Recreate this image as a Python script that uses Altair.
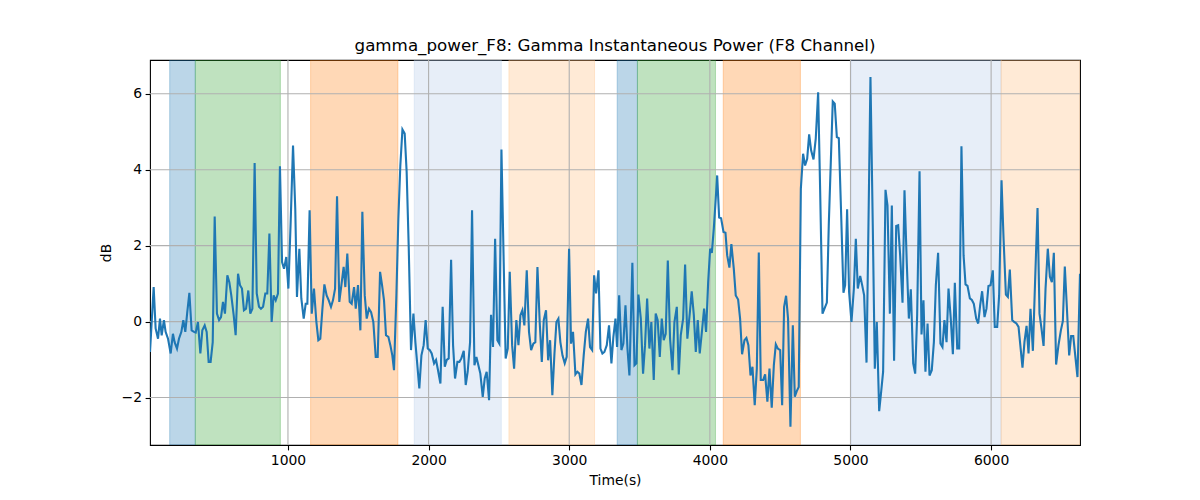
import altair as alt
import pandas as pd

# ---- data ----
time_s = [19, 45, 59, 76, 90, 102, 118, 130, 147, 166, 182, 194, 211, 225, 242, 256, 270, 284, 299, 315,
          332, 344, 360, 377, 391, 408, 422, 436, 450, 465, 479, 495, 510, 524, 538, 552, 569, 583, 597, 614,
          628, 645, 659, 673, 687, 702, 718, 732, 747, 763, 778, 794, 808, 823, 839, 853, 868,
          884, 898, 913, 929, 943, 958, 972, 988, 1003, 1019, 1036, 1052, 1064, 1081, 1095, 1112, 1126, 1138,
          1154, 1169, 1185, 1202, 1216, 1230, 1245, 1259, 1275, 1290, 1306, 1320, 1335, 1349, 1365, 1380,
          1396, 1408, 1422, 1439, 1453, 1470, 1482, 1498, 1515, 1529, 1546, 1560, 1576, 1591, 1607, 1624,
          1638, 1655, 1669, 1683, 1697, 1714,
          1728, 1742, 1754, 1771, 1785, 1799, 1814, 1830, 1844, 1859, 1875, 1892, 1906, 1920, 1934, 1949,
          1965, 1979, 1994, 2008, 2022, 2039, 2053, 2067, 2084, 2100, 2115, 2129, 2143, 2160, 2174, 2188,
          2205, 2219, 2233, 2250, 2264, 2278, 2295, 2309, 2326, 2340, 2354, 2368, 2385, 2399, 2413, 2430,
          2444, 2458, 2473, 2489, 2503, 2518, 2534, 2548, 2563, 2577,
          2594, 2608, 2624, 2639, 2653, 2667, 2681, 2698, 2714, 2729, 2745, 2759, 2774, 2790, 2805, 2819,
          2835, 2850, 2864, 2880, 2895, 2909, 2923, 2937, 2952, 2968, 2982, 2999, 3013, 3027, 3044, 3058,
          3072, 3087, 3103, 3118, 3134, 3148, 3163, 3177, 3191, 3208, 3222, 3236, 3250, 3267, 3283, 3300,
          3314, 3329, 3340, 3355, 3371, 3385, 3400, 3414, 3428,
          3449, 3464, 3478, 3492, 3509, 3525, 3539, 3554, 3570, 3584, 3601, 3615, 3629, 3644, 3658, 3672,
          3686, 3701, 3717, 3734, 3748, 3765, 3779, 3793, 3810, 3824, 3840, 3857, 3871, 3886, 3900, 3914,
          3928, 3942, 3959, 3973, 3988, 4002, 4014, 4028, 4042, 4052, 4066, 4080, 4097, 4111, 4123, 4139,
          4153, 4170, 4184, 4201, 4215, 4229, 4246, 4260, 4274,
          4289, 4303, 4319, 4334, 4348, 4362, 4379, 4393, 4409, 4424, 4440, 4455, 4469, 4483, 4500, 4514,
          4528, 4542, 4556, 4573, 4590, 4604, 4618, 4632, 4647, 4663, 4677, 4692, 4706, 4720, 4737, 4753,
          4770, 4784, 4801, 4815, 4832, 4846, 4860, 4874, 4888, 4903, 4917, 4933, 4950, 4962, 4976, 4990,
          5007, 5024, 5038, 5052, 5069, 5083, 5097, 5114,
          5128, 5142, 5159, 5173, 5187, 5204, 5218, 5232, 5249, 5263, 5280, 5294, 5310, 5325, 5339, 5353,
          5370, 5384, 5400, 5415, 5429, 5446, 5460, 5474, 5491, 5505, 5519, 5533, 5548, 5562, 5578, 5593,
          5607, 5623, 5640, 5654, 5668, 5683, 5697, 5713, 5728, 5742, 5759, 5773, 5789, 5804, 5818, 5832,
          5849, 5863, 5877, 5894, 5908, 5922, 5936, 5953, 5967, 5981,
          5996, 6012, 6026, 6043, 6057, 6074, 6088, 6105, 6119, 6133, 6150, 6164, 6180, 6195, 6209, 6223,
          6237, 6252, 6266, 6280, 6297, 6313, 6330, 6344, 6358, 6373, 6387, 6403, 6418, 6432, 6446, 6462,
          6479, 6496, 6510, 6524, 6539, 6555, 6569, 6584, 6598, 6614, 6632]

power_db = [-0.80, 0.91, -0.18, -0.45, 0.08, -0.36, 0.04, -0.27, -0.45, -0.84, -0.32, -0.54, -0.71, -0.45, -0.27, 0.04,
            -0.27, 0.25, 0.76, -0.23, -0.27, -0.29, -0.01, -0.84, -0.23, -0.10, -0.27, -1.06, -1.06, -0.54, 2.77, 0.21,
            0.04, 0.12, 0.52, 0.21, 1.22, 1.04, 0.69, 0.17, -0.36, 1.26, 0.96, 0.87, 0.30, 0.34, 0.82, 0.21,
            0.34, 4.18, 0.74, 0.39, 0.34, 0.39, 0.74, 0.74, 2.32,
            -0.01, 0.69, 0.56, 0.74, 4.09, 1.57, 1.39, 1.70, 0.87, 2.60, 4.64, 2.96, 0.65, 1.92, 0.61, 0.08, 0.47, 0.47,
            2.93, 0.21, 0.87, -0.01, -0.49, -0.45, 0.34, 0.98, 0.69, 0.56, 0.39, 0.56, 0.87, 3.30, 0.52, 0.96,
            1.44, 0.91, 1.79, 0.52, 0.47, 0.91, 0.34, 0.96, -0.23, 2.89, 0.69, 0.08, 0.34, 0.25, -0.01, -0.93,
            -0.93, 1.31, 0.96, 0.56, -0.36, -0.40,
            -0.62, -0.89, -1.28, 0.69, 2.71, 4.11, 5.06, 4.95, 3.94, 1.92, -0.75, 0.21, -0.54, -1.15, -1.76, -0.89,
            -0.62, 0.04, -0.71, -0.75, -0.84, -1.10, -1.01, -1.28, -1.63, 0.39, -1.19, -1.01, -0.97, 1.63, -0.62, -1.50,
            -1.06, -1.06, -0.97, -0.77, -1.67, -1.32, -0.54, 2.93, -1.15, -0.93, -1.15, -1.37, -1.98, -1.50, -1.32, -2.07,
            0.18, -0.67, 2.18, -0.49, -0.58, 4.53, 1.57, -0.97, -0.71, 1.31,
            -0.62, -1.24, 0.04, -0.62, 0.17, 0.30, -0.10, 1.35, -0.27, -0.75, -0.58, -0.54, 1.44, -0.01, -1.06, 0.04,
            0.30, -1.02, -0.49, -1.94, -0.84, -0.01, 0.08, -0.54, -0.89, -1.10, -0.93, 1.92, -0.58, -0.27, -1.39, -1.32,
            -1.37, -1.67, -0.89, -0.27, 0.08, -0.67, -0.75, 1.22, 0.74, 1.35, -0.71, -0.84, -0.80, -0.62, -0.10, -1.10,
            -0.40, 0.08, -0.67, 0.69, -0.75, -0.58, 0.43, -0.71, -1.42,
            1.55, -1.15, -1.10, 0.71, 0.08, -1.37, -0.62, 0.61, -0.71, -0.01, -1.54, 0.21, 0.04, -0.93, 0.08, -0.49,
            -0.32, 1.61, -0.45, -1.28, -0.01, 0.39, -1.39, -0.36, 0.08, 1.50, -0.45, 0.21, 0.80, 0.17, -0.80, 0.04,
            -0.84, -0.32, 0.34, -0.27, 1.04, 1.92, 1.81, 2.45, 3.25, 3.85, 2.74, 2.72, 2.36, 2.34, 1.75, 1.42,
            2.04, 1.40, 0.69, 0.58, 0.08, -0.86, -0.49, -0.43, -0.62,
            -1.42, -1.19, -2.20, -1.24, 1.82, -1.54, -1.54, -1.39, -2.11, -1.24, -2.27, -1.15, -0.60, -0.71, -0.75, -2.20,
            0.39, 0.68, 0.08, -2.77, -0.10, -1.98, -1.83, -1.72, 3.50, 4.42, 4.11, 4.29, 4.93, 4.51, 4.27, 4.82,
            6.04, 3.50, 0.21, 0.34, 0.50, 2.60, 4.20, 5.80, 5.74, 4.86, 4.83, 2.90, 0.76, 0.96, 2.96, 0.78,
            -0.01, 0.87, 2.18, 0.87, 1.20, 0.96, 0.69, -1.08,
            2.60, 6.44, 2.40, -1.24, -0.01, -2.36, -1.85, -1.32, 3.47, 3.06, 0.21, 3.06, -1.03, 2.52, 2.54, 1.75,
            0.50, 3.46, 1.57, 0.08, 0.85, -1.10, -1.37, 0.17, 3.96, -0.34, 0.56, -1.32, -0.05, -1.42, -1.28, -0.54,
            0.96, 1.81, -0.58, -0.67, 0.04, -0.54, 0.87, 0.08, -0.86, 1.02, -0.71, -0.71, 4.62, 1.75, 0.98, 0.94,
            0.61, 0.57, 0.47, 0.08, -0.05, 0.43, 0.80, 0.12, 0.34, 0.94,
            0.96, 1.35, -0.14, -0.14, 0.69, 3.72, 2.23, 0.71, 0.65, 1.37, 0.04, -0.01, -0.05, -0.14, -0.67, -1.21,
            -0.54, -0.11, -0.84, 0.34, -0.77, 1.10, 2.99, 0.21, -0.18, -0.64, 0.87, 1.92, 1.18, 1.04, 1.81, -1.13,
            -0.62, -0.23, 0.01, 1.45, 0.34, -0.89, -0.38, -0.38, -0.89, -1.46, 1.26]

span_start = [159, 341, 1161, 1898, 2571, 3341, 3485, 4095, 5004, 6071]
span_end = [341, 946, 1782, 2517, 3180, 3485, 4040, 4644, 6071, 6632]
span_phase = ["A", "B", "C", "D", "E", "A", "B", "C", "D", "E"]
phase_names = ["A", "B", "C", "D", "E"]
phase_colors = ["#1f77b4", "#2ca02c", "#ff7f0e", "#aec7e8", "#ffbb78"]

x_ticks = [1000, 2000, 3000, 4000, 5000, 6000]
y_ticks = [-2, 0, 2, 4, 6]
y_domain = [-3.25, 6.89]

line_df = pd.DataFrame({"t": time_s, "db": power_db})
span_df = pd.DataFrame({"start": span_start, "end": span_end, "phase": span_phase})
xgrid_df = pd.DataFrame({"t": x_ticks})
ygrid_df = pd.DataFrame({"db": y_ticks})

FONT = "DejaVu Sans"
xscale = alt.Scale(domain=[time_s[0], time_s[-1]], nice=False, zero=False)
yscale = alt.Scale(domain=y_domain, nice=False, zero=False)
xaxis = alt.Axis(values=x_ticks, title="Time(s)", grid=False, format="d")
yaxis = alt.Axis(values=y_ticks, title="dB", grid=False, format="d")

spans = alt.Chart(span_df).mark_rect(fillOpacity=0.3, strokeOpacity=0.3, strokeWidth=1, clip=True).encode(
    x=alt.X("start:Q", scale=xscale, axis=xaxis),
    x2="end:Q",
    color=alt.Color("phase:N", scale=alt.Scale(domain=phase_names, range=phase_colors), legend=None),
    stroke=alt.Stroke("phase:N", scale=alt.Scale(domain=phase_names, range=phase_colors), legend=None),
)

xgrid = alt.Chart(xgrid_df).mark_rule(color="#b0b0b0", strokeWidth=1.1).encode(
    x=alt.X("t:Q", scale=xscale, axis=xaxis)
)
ygrid = alt.Chart(ygrid_df).mark_rule(color="#b0b0b0", strokeWidth=1.1).encode(
    y=alt.Y("db:Q", scale=yscale, axis=yaxis)
)

line = alt.Chart(line_df).mark_line(color="#1f77b4", strokeWidth=2.1, clip=True).encode(
    x=alt.X("t:Q", scale=xscale, axis=xaxis),
    y=alt.Y("db:Q", scale=yscale, axis=yaxis),
)

chart = alt.layer(spans, xgrid, ygrid, line).properties(
    width=930,
    height=385,
    title=alt.TitleParams(
        "gamma_power_F8: Gamma Instantaneous Power (F8 Channel)",
        font=FONT, fontSize=16.7, fontWeight="normal", color="black",
        baseline="alphabetic", offset=8, dy=16, anchor="middle",
    ),
    autosize=alt.AutoSizeParams(type="none"),
    padding={"left": 142, "top": 52, "right": 112, "bottom": 47},
).configure_view(
    stroke="black", strokeWidth=1.1
).configure_axis(
    domain=False,
    labelFont=FONT, labelFontSize=13.9, labelColor="black",
    titleFont=FONT, titleFontSize=13.9, titleFontWeight="normal", titleColor="black",
    tickColor="black", tickSize=4.9, tickWidth=1.1, labelPadding=3.5,
).configure_axisX(titlePadding=6).configure_axisY(titlePadding=8)

chart.save("out.html", embed_options={"renderer": "svg", "actions": False})
